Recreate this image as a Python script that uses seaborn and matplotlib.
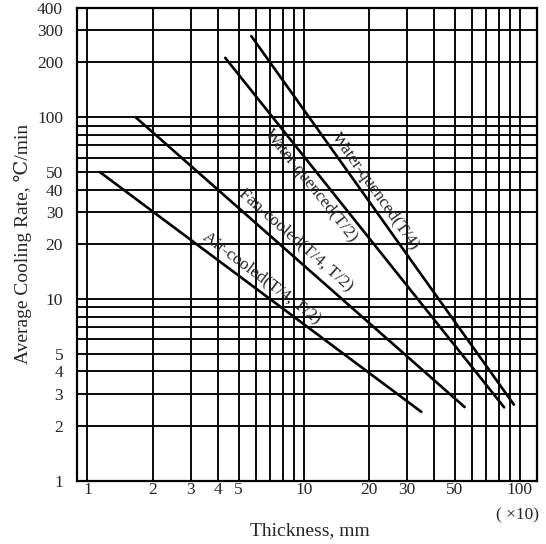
import numpy as np
import pandas as pd
import matplotlib
matplotlib.use("Agg")
import matplotlib.pyplot as plt
import seaborn as sns

# ---- data ----
series_names = ["Air-cooled(T/4, T/2)", "Fan-cooled(T/4, T/2)",
                "Water-quenced(T/2)", "Water-quenced(T/4)"]
air_x = [1.14, 35.0]
air_y = [50.0, 2.4]
fan_x = [1.67, 55.5]
fan_y = [100.0, 2.55]
wq2_x = [4.34, 84.6]
wq2_y = [212.0, 2.54]
wq4_x = [5.73, 93.8]
wq4_y = [279.0, 2.63]

x_tick_vals = [1, 2, 3, 4, 5, 10, 20, 30, 50, 100]
y_tick_vals = [1, 2, 3, 4, 5, 10, 20, 30, 40, 50, 100, 200, 300, 400]
x_grid_vals = [1, 2, 3, 4, 5, 6, 7, 8, 9, 10, 20, 30, 40, 50, 60, 70, 80, 90, 100]
y_grid_vals = [1, 2, 3, 4, 5, 6, 7, 8, 9, 10, 20, 30, 40, 50, 60, 70, 80, 90,
               100, 200, 300, 400]

label_pos = {  # text centres (positions only)
    "Air-cooled(T/4, T/2)": (6.39, 13.05),
    "Fan-cooled(T/4, T/2)": (9.18, 21.1),
    "Water-quenced(T/2)": (10.78, 41.8),
    "Water-quenced(T/4)": (21.5, 39.2),
}

xs = [air_x, fan_x, wq2_x, wq4_x]
ys = [air_y, fan_y, wq2_y, wq4_y]
df = pd.concat([pd.DataFrame({"x": x, "y": y, "series": n})
                for n, x, y in zip(series_names, xs, ys)], ignore_index=True)

sns.set_style("white")
plt.rcParams["font.family"] = ["Liberation Serif", "DejaVu Serif"]

fig = plt.figure(figsize=(5.46, 5.44), dpi=100)
ax = fig.add_axes([77 / 546, 1 - 481 / 544, (537 - 77) / 546, (481 - 7.7) / 544])

sns.lineplot(data=df, x="x", y="y", hue="series", palette=["black"] * 4,
             legend=False, linewidth=1.9, ax=ax, sort=False, zorder=3)

ax.set_xscale("log")
ax.set_yscale("log")
ax.set_xlim(0.895, 120)
ax.set_ylim(1, 400)

ax.xaxis.set_minor_locator(matplotlib.ticker.NullLocator())
ax.yaxis.set_minor_locator(matplotlib.ticker.NullLocator())
ax.set_xticks(x_grid_vals)
ax.set_xticklabels([str(v) if v in x_tick_vals else "" for v in x_grid_vals])
ax.set_yticks(y_grid_vals)
ax.set_yticklabels([str(v) if v in y_tick_vals else "" for v in y_grid_vals])
ax.tick_params(axis="both", length=0, labelsize=12.5)
ax.tick_params(axis="y", pad=10)
ax.tick_params(axis="x", pad=1)
ax.grid(True, which="major", color="black", linewidth=1.35)

for s in ax.spines.values():
    s.set_color("black")
    s.set_linewidth(1.6)
    s.set_visible(True)

ax.set_ylabel("Average Cooling Rate, \u2103/min", fontsize=14, va="center")
ax.yaxis.set_label_coords(-0.117, 0.5)
ax.set_xlabel("Thickness, mm", fontsize=14, va="center")
ax.xaxis.set_label_coords(0.506, -0.1056)

ax.text(1.0 - (537 - 518) / 460, (481 - 515) / 473.3, "( \u00d710)",
        transform=ax.transAxes, ha="center", va="center", fontsize=12.5)

# labels along lines
for n, x, y in zip(series_names, xs, ys):
    p = ax.transData.transform(np.column_stack([x, y]))
    ang = np.degrees(np.arctan2(p[1, 1] - p[0, 1], p[1, 0] - p[0, 0]))
    tx, ty = label_pos[n]
    ax.text(tx, ty, n, rotation=ang, rotation_mode="anchor",
            ha="center", va="center", fontsize=12.5, zorder=4)

fig.savefig("out.png", dpi=100)
